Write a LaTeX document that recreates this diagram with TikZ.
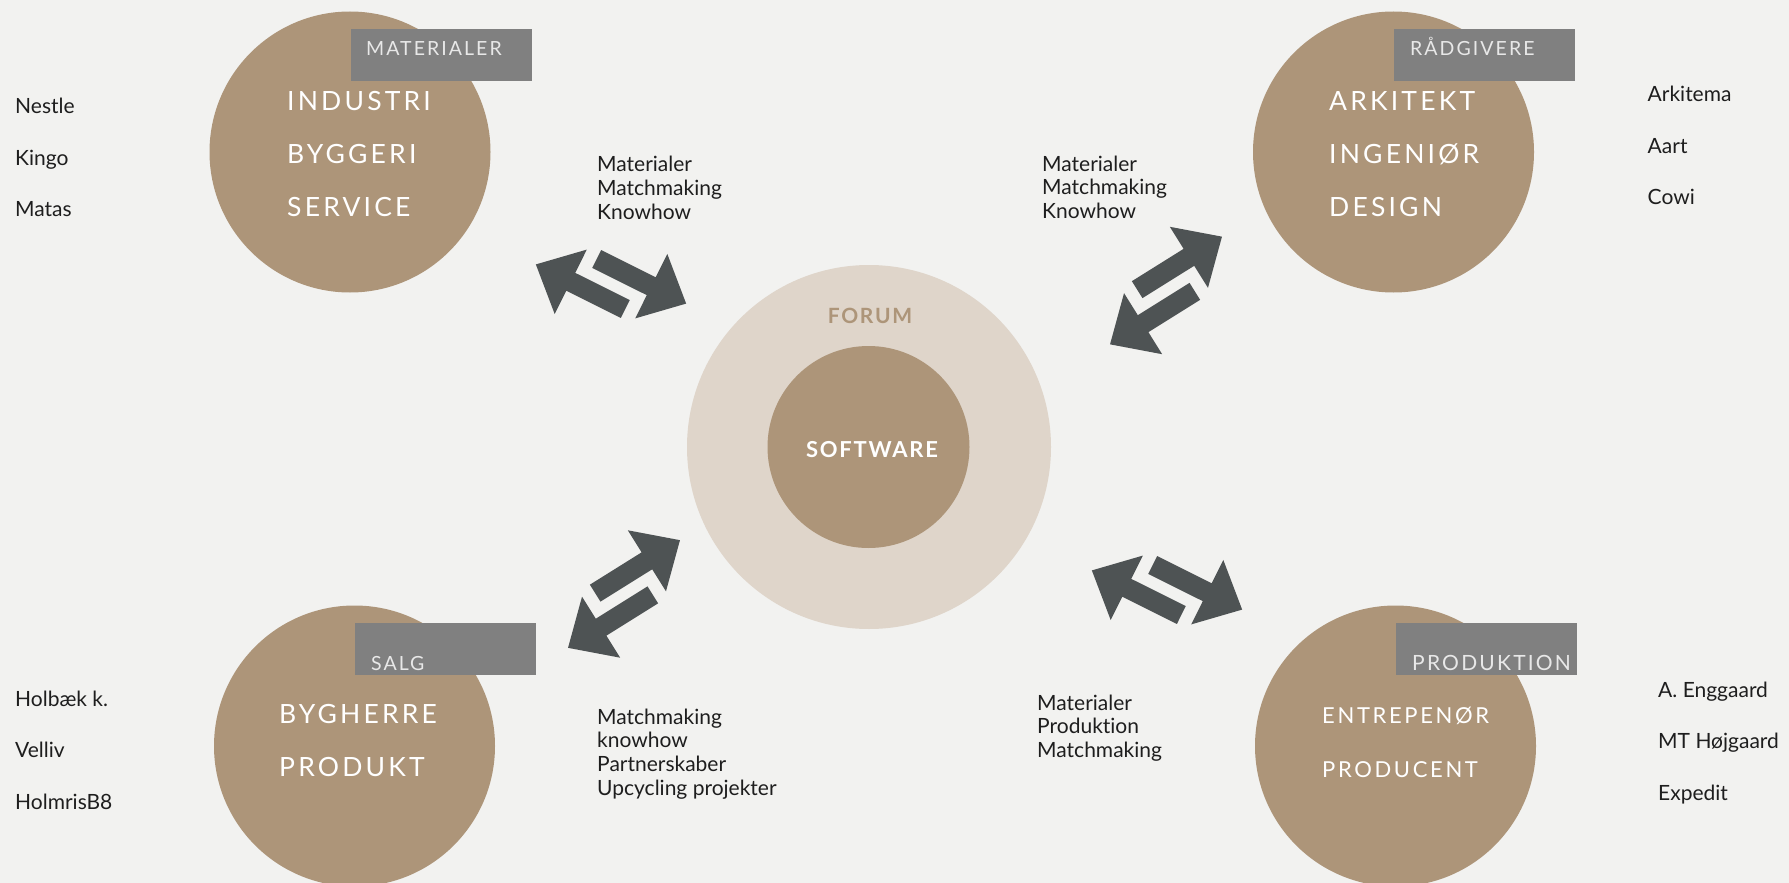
\documentclass[tikz,border=0pt]{standalone}
\usepackage{fontspec}
\setmainfont{Lato}[Ligatures=NoCommon]
\newfontfamily\widefont[LetterSpace=12,Ligatures=NoCommon]{Lato}
\newfontfamily\tagfont[LetterSpace=10.5,Ligatures=NoCommon]{Lato}
\newfontfamily\hubfont[LetterSpace=8,Ligatures=NoCommon]{Lato}
\usetikzlibrary{positioning}
\usetikzlibrary{calc}
\definecolor{bgcol}{HTML}{F2F2F0}
\definecolor{tancol}{HTML}{AD9579}
\definecolor{forumcol}{HTML}{DFD5CA}
\definecolor{arrowcol}{HTML}{4E5354}
\definecolor{tagcol}{HTML}{808080}
\definecolor{tagink}{HTML}{E8E8E8}
\definecolor{inkcol}{HTML}{1E1E1E}

\begin{document}
\begin{tikzpicture}[x=1pt,y=-1pt]
	\tikzset{bubble/.style = {shape=circle, fill=tancol, minimum size=281pt, inner sep=0pt},
		tag/.style = {shape=rectangle, fill=tagcol, minimum width=181pt, minimum height=52pt, inner sep=0pt, anchor=north west},
		tagtext/.style = {anchor=base west, inner sep=0pt, text=tagink, font=\tagfont\fontsize{19.5}{20}\selectfont},
		bubbletext/.style = {anchor=base west, inner sep=0pt, align=left, text=white, font=\widefont\fontsize{26.5}{53}\selectfont},
		info/.style = {anchor=base west, inner sep=0pt, align=left, text=inkcol, font=\fontsize{21}{23.6}\selectfont},
		names/.style = {anchor=base west, inner sep=0pt, align=left, text=inkcol, font=\fontsize{21}{51.3}\selectfont},
		pics/swap/.style = {code={
			\fill[arrowcol] (-24,-26) -- (37,-26) -- (37,-52) -- (76,-16) -- (37,20) -- (37,-6) -- (-24,-6) -- cycle;
			\fill[arrowcol] (24,26) -- (-37,26) -- (-37,52) -- (-76,16) -- (-37,-20) -- (-37,6) -- (24,6) -- cycle;
		}}}
	\useasboundingbox (0,0) rectangle (1789,883);
	\clip (0,0) rectangle (1789,883);
	\fill[bgcol] (0,0) rectangle (1789,883);
	
	\node[shape=circle, fill=forumcol, minimum size=364pt, inner sep=0pt] (FORUM) at (869,447) {};
	\node[shape=circle, fill=tancol, minimum size=202pt, inner sep=0pt] (SOFTWARE) at (868.5,447) {};
	\node[anchor=base, inner sep=0pt, text=tancol, font=\hubfont\bfseries\fontsize{21}{22}\selectfont] (FORUMTXT) at (870,323) {FORUM};
	\node[anchor=base, inner sep=0pt, text=white, font=\hubfont\bfseries\fontsize{22}{23}\selectfont] (SOFTWARETXT) at (872,457) {SOFTWARE};
	
	\node[bubble] (INDUSTRI) at (350,152) {};
	\node[bubble] (ARKITEKT) at (1393.5,152) {};
	\node[bubble] (BYGHERRE) at (354.5,746) {};
	\node[bubble] (ENTREPENOR) at (1395.5,746) {};
	
	\node[tag] (MATBOX) at (351,29) {};
	\node[tag] (RAADBOX) at (1394,29) {};
	\node[tag] (SALGBOX) at (355,623) {};
	\node[tag] (PRODBOX) at (1396,623) {};
	\node[tagtext] (MATTXT) at (366,56) {MATERIALER};
	\node[tagtext] (RAADTXT) at (1410,56) {RÅDGIVERE};
	\node[tagtext] (SALGTXT) at (371,670) {SALG};
	\node[tagtext, font=\tagfont\fontsize{21}{22}\selectfont] (PRODTXT) at (1412,670) {PRODUKTION};
	
	\node[bubbletext] (INDUSTRITXT) at (287,216) {INDUSTRI\\BYGGERI\\SERVICE};
	\node[bubbletext] (ARKITEKTTXT) at (1329,216) {ARKITEKT\\INGENIØR\\DESIGN};
	\node[bubbletext] (BYGHERRETXT) at (279,776) {BYGHERRE\\PRODUKT};
	\node[bubbletext, font=\widefont\fontsize{22}{53.5}\selectfont] (ENTREPENORTXT) at (1322,777) {ENTREPENØR\\PRODUCENT};
	
	\node[names] (KUNDER) at (15,216.5) {Nestle\\Kingo\\Matas};
	\node[names] (RAADGIVERE) at (1647.5,204.3) {Arkitema\\Aart\\Cowi};
	\node[names] (BYGHERRER) at (15,809) {Holbæk k.\\Velliv\\HolmrisB8};
	\node[names] (ENTREPENORER) at (1658,800) {A. Enggaard\\MT Højgaard\\Expedit};
	
	\node[info] (FLOWA) at (597,219) {Materialer\\Matchmaking\\Knowhow};
	\node[info] (FLOWB) at (1042,218.3) {Materialer\\Matchmaking\\Knowhow};
	\node[info] (FLOWC) at (597,795) {Matchmaking\\knowhow\\Partnerskaber\\Upcycling projekter};
	\node[info] (FLOWD) at (1037,757.3) {Materialer\\Produktion\\Matchmaking};
	
	\pic[rotate=-26.5] (SWAPA) at (611,284) {swap};
	\pic[rotate=32] (SWAPB) at (1166,290.5) {swap};
	\pic[rotate=32] (SWAPC) at (624,594) {swap};
	\pic[rotate=-26.5] (SWAPD) at (1167,590) {swap};
\end{tikzpicture}
\end{document}
